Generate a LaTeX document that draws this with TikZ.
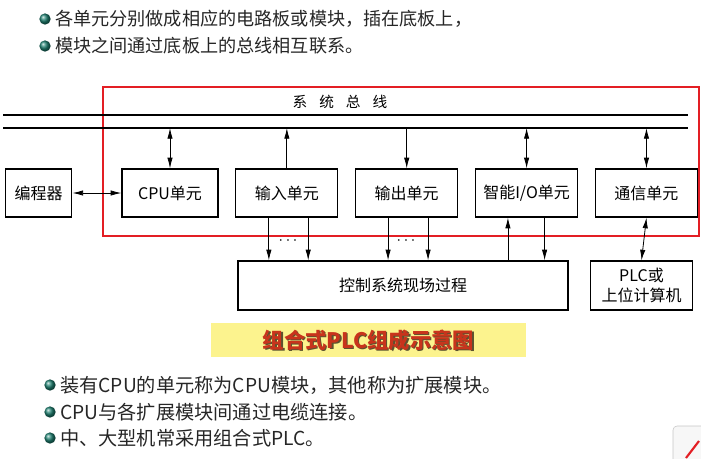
\documentclass[tikz,border=0pt]{standalone}
\usepackage{fontspec}
\setmainfont{Noto Sans CJK SC}
\usetikzlibrary{positioning,arrows.meta,calc}
\definecolor{frameRed}{HTML}{E31E24}
\definecolor{capFill}{HTML}{FCF38E}
\definecolor{capText}{HTML}{C8341C}
\definecolor{capShadow}{HTML}{5C5230}
\definecolor{dotColor}{HTML}{1E8070}

\begin{document}
\begin{tikzpicture}[x=0.75pt, y=-0.75pt,
  font=\fontsize{12}{14}\selectfont,
  unit/.style  ={draw, line width=0.9pt, minimum width=76.5pt, minimum height=36pt, inner sep=0pt, align=center},
  bus/.style   ={line width=1.3pt},
  frame/.style ={draw=frameRed, line width=1.5pt},
  arr/.style   ={-{Latex[length=8pt,width=4pt]}, line width=0.6pt},
  biarr/.style ={{Latex[length=8pt,width=4pt]}-{Latex[length=8pt,width=4pt]}, line width=0.6pt},
  dot/.style   ={circle, ball color=dotColor, minimum size=8.5pt, inner sep=0pt},
  point/.style ={anchor=west, inner sep=0pt, text=black!85},
]
\useasboundingbox (0,0) rectangle (701,458);

% ==================== Top bullets ====================
\node[dot] (b1) at (45,19) {};
\node[point, right=3pt of b1, font=\fontsize{13.6}{15}\selectfont] (t1) {各单元分别做成相应的电路板或模块，插在底板上，};
\node[dot] (b2) at (45,46) {};
\node[point, right=3pt of b2, font=\fontsize{13.6}{15}\selectfont] (t2) {模块之间通过底板上的总线相互联系。};

% ==================== System bus ====================
\draw[frame] (103,87) rectangle (699,236);
\node[font=\fontsize{11}{13}\selectfont] (buslbl) at (340,102) {系\hspace{9pt}统\hspace{9pt}总\hspace{9pt}线};
\coordinate (busTopW) at (3,115);
\coordinate (busTopE) at (688,115);
\coordinate (busLowW) at (3,128);
\coordinate (busLowE) at (688,128);
\draw[bus] (busTopW) -- (busTopE);
\draw[bus] (busLowW) -- (busLowE);

% ==================== Units ====================
\node[unit, minimum width=50pt] (prog) at (38.5,193) {编程器};
\node[unit, minimum width=72pt] (cpu) at (170,193) {CPU单元};
\node[unit, right=12.5pt of cpu] (inp)  {输入单元};
\node[unit, right=12.5pt of inp] (outp) {输出单元};
\node[unit, right=12.5pt of outp] (smio) {智能I/O单元};
\node[unit, right=12.5pt of smio] (comm) {通信单元};

% ==================== Bottom boxes ====================
\node[unit, minimum width=247.5pt, minimum height=36.75pt] (field) at (403,285.5) {控制系统现场过程};
\node[unit, minimum width=77pt, minimum height=36.75pt, align=center, font=\fontsize{12}{15}\selectfont] (plc) at (641.5,285.5) {PLC或\\上位计算机};

% ==================== Arrows ====================
% bus <-> units
\draw[biarr] (cpu.north) -- (cpu.north |- busLowW);
\draw[arr] (inp.north) -- (inp.north |- busLowW);
\draw[arr] (outp.north |- busLowW) -- (outp.north);
\draw[biarr] (smio.north) -- (smio.north |- busLowW);
\draw[biarr] (comm.north) -- (comm.north |- busLowW);

% programmer <-> cpu
\draw[biarr] (prog.east) -- (cpu.west);

% units -> field process
\draw[arr] ([xshift=-13.5pt]inp.south) -- ([xshift=-13.5pt]inp.south |- field.north);
\draw[arr] ([xshift=16pt]inp.south) -- ([xshift=16pt]inp.south |- field.north);
\draw[arr] ([xshift=-14pt]outp.south) -- ([xshift=-14pt]outp.south |- field.north);
\draw[arr] ([xshift=16pt]outp.south) -- ([xshift=16pt]outp.south |- field.north);
\draw[arr] ([xshift=-14pt]smio.south |- field.north) -- ([xshift=-14pt]smio.south);
\draw[arr] ([xshift=13.5pt]smio.south) -- ([xshift=13.5pt]smio.south |- field.north);
\draw[biarr] (comm.south) -- (plc.north);

\node (dotsIn)  at (288,241) {$\cdots$};
\node (dotsOut) at (406,241) {$\cdots$};

% ==================== Caption ====================
\node[fill=capFill, minimum width=236pt, minimum height=25.5pt] (capbox) at (368.5,340) {};
\node[text=capShadow, font=\fontsize{16}{18}\selectfont\bfseries] (capshadow) at ($(capbox.center)+(1.3,1.3)$) {组合式PLC组成示意图};
\node[text=capText, font=\fontsize{16}{18}\selectfont\bfseries] (captext) at (capbox.center) {组合式PLC组成示意图};

% ==================== Bottom bullets ====================
\node[dot] (b3) at (50,385) {};
\node[point, right=3pt of b3, font=\fontsize{14.4}{16}\selectfont] (t3) {装有CPU的单元称为CPU模块，其他称为扩展模块。};
\node[dot] (b4) at (50,412) {};
\node[point, right=3pt of b4, font=\fontsize{14.4}{16}\selectfont] (t4) {CPU与各扩展模块间通过电缆连接。};
\node[dot] (b5) at (50,438) {};
\node[point, right=3pt of b5, font=\fontsize{14.4}{16}\selectfont] (t5) {中、大型机常采用组合式PLC。};

% corner of next slide element
\draw[gray!45, fill=gray!6, rounded corners=3pt] (673,426) rectangle (712,470);
\draw[frameRed, line width=1.6pt] (686,458) -- (699,441);

\end{tikzpicture}
\end{document}
